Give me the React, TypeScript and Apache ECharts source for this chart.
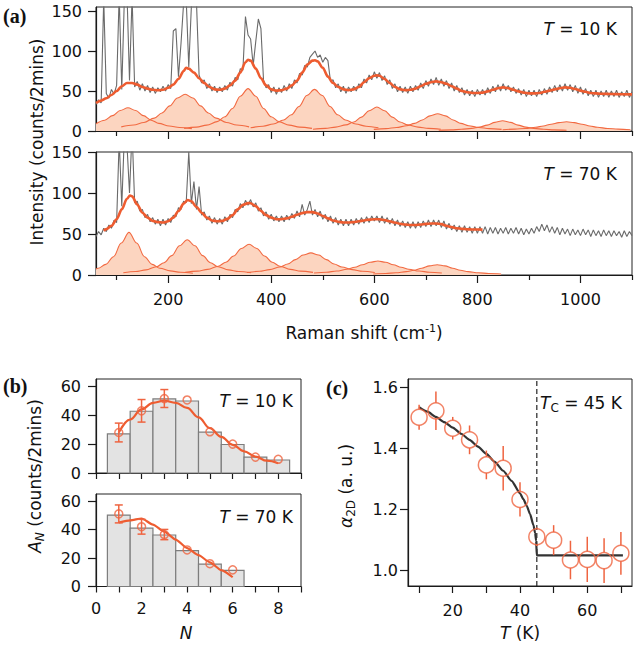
import React, { useEffect, useRef } from 'react';
import * as echarts from 'echarts';

// ---------------- Panel (a): Raman spectra ----------------
const SPEC_START = 60;
const SPEC_STEP = 5;
const SPEC_10K = [
  33, 39, 35, 165, 47, 41, 52, 46, 57, 170,
  52, 165, 175, 63, 168, 55, 62, 51, 59, 50,
  57, 48, 55, 47, 54, 49, 56, 50, 58, 53,
  125, 128, 68, 110, 160, 165, 80, 155, 170, 160,
  70, 60, 64, 53, 59, 50, 56, 48, 55, 49,
  57, 51, 61, 56, 67, 64, 78, 76, 143, 120,
  115, 82, 112, 140, 128, 64, 54, 58, 48, 55,
  46, 54, 48, 57, 50, 59, 53, 64, 60, 72,
  70, 82, 80, 92, 96, 100, 92, 95, 86, 92,
  88, 62, 64, 54, 59, 49, 56, 47, 55, 49,
  56, 50, 59, 54, 65, 60, 70, 64, 74, 66,
  73, 63, 69, 58, 64, 53, 59, 49, 56, 48,
  55, 47, 56, 49, 57, 51, 60, 53, 63, 56,
  65, 58, 67, 57, 65, 56, 63, 53, 60, 50,
  57, 48, 54, 45, 52, 44, 51, 43, 52, 45,
  52, 45, 54, 47, 56, 49, 58, 50, 59, 51,
  57, 49, 55, 47, 53, 45, 52, 43, 51, 44,
  51, 43, 52, 45, 53, 46, 55, 48, 57, 49,
  58, 50, 59, 51, 58, 49, 57, 47, 55, 46,
  53, 44, 51, 43, 51, 42, 50, 43, 51, 42,
  50, 43, 51, 42, 49, 43, 51, 42, 49,
];
const SPEC_70K = [
  47, 53, 49, 57, 53, 61, 57, 67, 64, 165,
  84, 170, 160, 100, 175, 88, 90, 78, 80, 70,
  74, 65, 70, 62, 68, 60, 68, 61, 69, 64,
  73, 71, 82, 80, 90, 88, 150, 87, 114, 80,
  108, 73, 77, 67, 72, 63, 70, 62, 69, 62,
  71, 65, 74, 70, 80, 77, 87, 82, 91, 85,
  92, 83, 88, 78, 82, 72, 77, 68, 74, 66,
  72, 65, 72, 65, 73, 67, 75, 69, 78, 71,
  86, 73, 80, 90, 73, 80, 71, 78, 68, 74,
  65, 72, 63, 70, 61, 68, 60, 68, 60, 68,
  61, 69, 62, 70, 63, 71, 64, 72, 66, 72,
  64, 72, 63, 70, 62, 69, 60, 67, 59, 66,
  58, 65, 57, 65, 57, 65, 58, 66, 59, 67,
  59, 67, 60, 67, 58, 66, 56, 63, 55, 61,
  53, 60, 52, 60, 52, 59, 51, 59, 51, 59,
  51, 59, 50, 58, 51, 58, 50, 57, 51, 58,
  50, 57, 51, 58, 50, 57, 49, 56, 50, 57,
  51, 59, 53, 62, 54, 61, 52, 59, 51, 58,
  49, 57, 50, 56, 48, 56, 49, 55, 48, 56,
  49, 55, 47, 55, 48, 54, 47, 55, 48, 54,
  47, 54, 48, 53, 46, 54, 47, 53, 48,
];
const FIT_10K = [
  [60, 35], [70, 38], [80, 41], [90, 45], [100, 50], [110, 56], [120, 60], [130, 60], [140, 58], [150, 55],
  [160, 53], [170, 51.5], [180, 51], [190, 51.5], [200, 54], [210, 58], [220, 65], [230, 75], [235, 79], [240, 78],
  [250, 73], [260, 66], [270, 60], [280, 55], [290, 52], [300, 51.5], [310, 53], [320, 57], [330, 63], [340, 73],
  [350, 86], [355, 89], [360, 88], [370, 78], [380, 66], [390, 57], [400, 52], [410, 50.5], [420, 51], [430, 53],
  [440, 57], [450, 63], [460, 73], [470, 83], [480, 88], [485, 88.5], [490, 87], [500, 79], [510, 68], [520, 60],
  [530, 55], [540, 52], [550, 51], [560, 52], [570, 55], [580, 61], [590, 66], [600, 69], [605, 69.5], [610, 69],
  [620, 65], [630, 60], [640, 55], [650, 52], [660, 51], [670, 51.5], [680, 53], [690, 56], [700, 59], [710, 61],
  [720, 62], [730, 61], [740, 59], [750, 56], [760, 53], [770, 50], [780, 48.5], [790, 47.5], [800, 47.5], [810, 48],
  [820, 49.5], [830, 51.5], [840, 53.5], [850, 54.5], [860, 53.5], [870, 51.5], [880, 49.5], [890, 48], [900, 47], [910, 47],
  [920, 47.5], [930, 49], [940, 50.5], [950, 52], [960, 53.5], [970, 54.5], [980, 54], [990, 52.5], [1000, 50.5], [1010, 49],
  [1020, 47.5], [1030, 47], [1040, 46.5], [1060, 46.2], [1080, 46], [1100, 45.8],
];
const FIT_70K = [
  [75, 54], [80, 56], [90, 60], [100, 68], [110, 80], [120, 93], [126, 97], [130, 96], [140, 86], [150, 76],
  [160, 70], [170, 66], [180, 64.5], [190, 64], [200, 65.5], [210, 70], [220, 78], [230, 87], [238, 91.5], [245, 90],
  [255, 83], [265, 76], [275, 70], [285, 66.5], [295, 65.5], [305, 66], [315, 68.5], [325, 73], [335, 80], [345, 85.5],
  [355, 87.7], [360, 87.5], [370, 84], [380, 78], [390, 73], [400, 70], [410, 68], [420, 68], [430, 69], [440, 71],
  [450, 73.5], [460, 75.5], [470, 76.7], [480, 76.7], [490, 75], [500, 72], [510, 69], [520, 66.5], [530, 65], [540, 64],
  [550, 64], [560, 64.5], [570, 65.5], [580, 66.5], [590, 67.5], [600, 68], [610, 68], [620, 67], [630, 65.5], [640, 64],
  [650, 62.5], [660, 61.5], [670, 61], [680, 61], [690, 61.5], [700, 62.3], [710, 62.8], [720, 62.8], [730, 62], [740, 60],
  [750, 58.5], [760, 57], [770, 56.2], [780, 55.8], [790, 55.5], [800, 55.4], [810, 55.3],
];
const PEAKS_10K = [
  [[60, 9.1], [77, 13.5], [92, 19.2], [107, 25.7], [122, 29], [137, 25.7], [152, 19.2], [167, 13.5], [182, 9.5], [202, 6.3], [222, 4.4], [246, 3.0]],
  [[109, 5.2], [133, 7.5], [153, 10.7], [173, 16.1], [188, 22.5], [203, 31.4], [218, 41.2], [233, 46], [248, 41.2], [263, 31.4], [278, 22.5], [293, 16.1], [313, 10.7], [333, 7.5], [357, 5.2]],
  [[231, 3.3], [255, 4.9], [275, 7.3], [295, 11.7], [310, 17.8], [325, 28.2], [340, 43.5], [355, 53], [370, 43.5], [385, 28.2], [400, 17.8], [415, 11.7], [435, 7.3], [455, 4.9], [479, 3.3]],
  [[360, 4.0], [384, 6.0], [404, 8.7], [424, 13.8], [439, 20.3], [454, 30.7], [469, 44.3], [484, 52], [499, 44.3], [514, 30.7], [529, 20.3], [544, 13.8], [564, 8.7], [584, 6.0], [608, 4.0]],
  [[481, 2.2], [505, 3.3], [525, 4.8], [545, 7.6], [560, 11.3], [575, 17.3], [590, 25.4], [605, 30], [620, 25.4], [635, 17.3], [650, 11.3], [665, 7.6], [685, 4.8], [705, 3.3], [729, 2.2]],
  [[599, 2.0], [623, 3.0], [643, 4.3], [663, 6.6], [678, 9.5], [693, 13.8], [708, 18.9], [723, 21.5], [738, 18.9], [753, 13.8], [768, 9.5], [783, 6.6], [803, 4.3], [823, 3.0], [847, 2.0]],
  [[725, 0.9], [749, 1.4], [769, 2.1], [789, 3.3], [804, 4.8], [819, 7.4], [834, 10.8], [849, 12.8], [864, 10.8], [879, 7.4], [894, 4.8], [909, 3.3], [929, 2.1], [949, 1.4], [973, 0.9]],
  [[849, 1.6], [873, 2.3], [893, 3.2], [913, 4.7], [928, 6.3], [943, 8.5], [958, 10.5], [973, 11.5], [988, 10.5], [1003, 8.5], [1018, 6.3], [1033, 4.7], [1053, 3.2], [1073, 2.3], [1097, 1.6]],
];
const PEAKS_70K = [
  [[60, 7.4], [64, 8.2], [79, 13], [94, 22.3], [109, 39], [124, 52], [139, 39], [154, 22.3], [169, 13], [184, 8.2], [204, 5.0], [224, 3.3], [248, 2.2]],
  [[113, 2.8], [137, 4.2], [157, 6.2], [177, 10], [192, 15], [207, 23.6], [222, 35.6], [237, 43], [252, 35.6], [267, 23.6], [282, 15], [297, 10], [317, 6.2], [337, 4.2], [361, 2.8]],
  [[233, 3.2], [257, 4.7], [277, 6.9], [297, 10.7], [312, 15.6], [327, 23.1], [342, 32.4], [357, 37.5], [372, 32.4], [387, 23.1], [402, 15.6], [417, 10.7], [437, 6.9], [457, 4.7], [481, 3.2]],
  [[353, 3.1], [377, 4.5], [397, 6.5], [417, 9.7], [432, 13.5], [447, 18.7], [462, 24.3], [477, 27], [492, 24.3], [507, 18.7], [522, 13.5], [537, 9.7], [557, 6.5], [577, 4.5], [601, 3.1]],
  [[483, 2.4], [507, 3.4], [527, 4.8], [547, 7.0], [562, 9.4], [577, 12.5], [592, 15.6], [607, 17], [622, 15.6], [637, 12.5], [652, 9.4], [667, 7.0], [687, 4.8], [707, 3.4], [731, 2.4]],
  [[598, 1.3], [622, 1.9], [642, 2.7], [662, 4.1], [677, 5.8], [692, 8.3], [707, 11.1], [722, 12.5], [737, 11.1], [752, 8.3], [767, 5.8], [782, 4.1], [802, 2.7], [822, 1.9], [846, 1.3]],
];
const RAMAN_MAJOR = [200, 400, 600, 800, 1000];
const RAMAN_MINOR = [100, 300, 500, 700, 900, 1100];
const INTENSITY_TICKS = [0, 50, 100, 150];

// ---------------- Panel (b): A_N histograms ----------------
const N_10K = [1, 2, 3, 4, 5, 6, 7, 8];
const BAR_10K = [27, 42.7, 51.2, 49.8, 28.2, 19.7, 11, 9];
const PT_10K = [28, 43, 51.5, 50.5, 28.5, 20, 11, 9.5];
const ERR_10K = [6.5, 7.8, 6.2, 0, 0, 0, 0, 0];
const NFIT_10K = [[1, 28], [1.5, 37], [2, 44], [2.5, 48.5], [3, 50], [3.5, 48.5], [4, 45], [4.5, 38.5], [5, 31], [5.5, 25], [6, 19.5], [6.5, 15], [7, 11.3], [7.5, 8.5], [8, 6.8]];
const N_70K = [1, 2, 3, 4, 5, 6];
const BAR_70K = [50.2, 41, 36.2, 25.2, 15.7, 11.4];
const PT_70K = [51, 42, 36.5, 25.7, 16, 11.7];
const ERR_70K = [6.3, 5.2, 3.6, 0, 0, 0];
const NFIT_70K = [[1, 45], [1.5, 46.5], [2, 47.8], [2.5, 43.5], [3, 38.5], [3.5, 33], [4, 27], [4.5, 22], [5, 17], [5.5, 11.5], [6, 6.5]];
const N_TICKS = [0, 1, 2, 3, 4, 5, 6, 7, 8, 9];
const N_LABELS = [0, 2, 4, 6, 8];
const A_TICKS = [0, 20, 40, 60];

// ---------------- Panel (c): alpha_2D vs T ----------------
const T_K = [10, 15, 20, 25, 30, 35, 40, 45, 50, 55, 60, 65, 70];
const ALPHA = [1.502, 1.523, 1.466, 1.428, 1.346, 1.335, 1.233, 1.111, 1.100, 1.035, 1.037, 1.033, 1.057];
const ALPHA_ERR = [0.041, 0.063, 0.037, 0.047, 0.047, 0.073, 0.056, 0.03, 0.049, 0.063, 0.074, 0.073, 0.07];
const ALPHA_FIT = [
  [10, 1.535], [12.5, 1.52], [15, 1.503], [17.5, 1.486], [20, 1.468], [22.5, 1.448], [25, 1.428], [27.5, 1.406],
  [30, 1.382], [32.5, 1.356], [35, 1.327], [37.5, 1.294], [40, 1.253], [41, 1.234], [42, 1.212], [43, 1.185],
  [44, 1.149], [44.5, 1.123], [44.8, 1.098], [45, 1.05], [70.6, 1.05],
];
const TC = 45;
const T_TICKS = [10, 20, 30, 40, 50, 60, 70];
const T_LABELS = [20, 40, 60];
const ALPHA_TICKS = [1.0, 1.2, 1.4, 1.6];

// ---------------- styling ----------------
const FONT = 'DejaVu Sans';
const ORANGE = '#ee5c30';
const MARK = '#ef6440';
const COMP_LINE = '#f26a42';
const COMP_FILL = '#fcd5c0';
const GRAY = '#6a6a6a';
const AX = '#1a1a1a';
const TXT = '#111';

function xAxis(grid: number, min: number, max: number, ticks: number[], labels: number[], len: number, margin: number, line = true) {
  return {
    type: 'value', gridIndex: grid, min, max, position: 'bottom',
    axisLine: { show: line, onZero: false, lineStyle: { color: AX, width: 1.2 } },
    axisTick: { show: true, inside: false, length: len, customValues: ticks, lineStyle: { color: AX, width: 1.2 } },
    axisLabel: {
      show: labels.length > 0, customValues: labels, margin, fontFamily: FONT, fontSize: 16, color: TXT,
      formatter: (v: number) => String(v),
    },
    splitLine: { show: false },
  };
}
function yAxis(grid: number, min: number, max: number, ticks: number[], len: number, margin: number, fmt?: (v: number) => string) {
  return {
    type: 'value', gridIndex: grid, min, max, position: 'left',
    axisLine: { show: true, onZero: false, lineStyle: { color: AX, width: 1.2 } },
    axisTick: { show: true, inside: false, length: len, customValues: ticks, lineStyle: { color: AX, width: 1.2 } },
    axisLabel: {
      show: true, customValues: ticks, margin, fontFamily: FONT, fontSize: 16, color: TXT,
      formatter: fmt || ((v: number) => String(v)),
    },
    splitLine: { show: false },
  };
}

function specSeries(values: number[], xi: number, yi: number) {
  return {
    type: 'line', xAxisIndex: xi, yAxisIndex: yi, symbol: 'none', clip: true, z: 2,
    data: values.map((v, i) => [SPEC_START + i * SPEC_STEP, v]),
    lineStyle: { color: GRAY, width: 1.1 },
  };
}
function peakSeries(peaks: number[][][], xi: number, yi: number) {
  const out: any[] = [];
  peaks.forEach((p) => {
    out.push({
      type: 'line', xAxisIndex: xi, yAxisIndex: yi, symbol: 'none', clip: true, z: 1,
      smooth: 0.35, smoothMonotone: 'x', data: p,
      lineStyle: { width: 0, opacity: 0 }, areaStyle: { color: COMP_FILL, opacity: 1 },
    });
  });
  peaks.forEach((p) => {
    out.push({
      type: 'line', xAxisIndex: xi, yAxisIndex: yi, symbol: 'none', clip: true, z: 3,
      smooth: 0.35, smoothMonotone: 'x', data: p,
      lineStyle: { color: COMP_LINE, width: 1.1 },
    });
  });
  return out;
}
function fitSeries(data: number[][], xi: number, yi: number, color: string, width: number, smooth: number) {
  return {
    type: 'line', xAxisIndex: xi, yAxisIndex: yi, symbol: 'none', clip: true, z: 4,
    smooth, smoothMonotone: 'x', data, lineStyle: { color, width },
  };
}
function barSeries(ns: number[], vals: number[], xi: number, yi: number) {
  return {
    type: 'custom', xAxisIndex: xi, yAxisIndex: yi, z: 1,
    encode: { x: 0, y: 1 },
    data: ns.map((n, i) => [n, vals[i]]),
    renderItem: (params: any, api: any) => {
      const n = api.value(0);
      const v = api.value(1);
      const a = api.coord([n - 0.5, v]);
      const b = api.coord([n + 0.5, 0]);
      return {
        type: 'rect',
        shape: { x: a[0], y: a[1], width: b[0] - a[0], height: b[1] - a[1] },
        style: { fill: '#e3e3e3', stroke: '#7d7d7d', lineWidth: 1.2 },
      };
    },
  };
}
function errSeries(xs: number[], vals: number[], errs: number[], xi: number, yi: number, cap: number, gap: number) {
  return {
    type: 'custom', xAxisIndex: xi, yAxisIndex: yi, z: 5,
    encode: { x: 0, y: 1 },
    data: xs.map((x, i) => [x, vals[i], errs[i]]),
    renderItem: (params: any, api: any) => {
      const x = api.value(0);
      const v = api.value(1);
      const e = api.value(2);
      const children: any[] = [];
      if (e > 0) {
        const top = api.coord([x, v + e]);
        const bot = api.coord([x, v - e]);
        const mid = api.coord([x, v]);
        const st = { stroke: MARK, lineWidth: 1.5 };
        if (gap > 0) {
          if (mid[1] - gap > top[1]) children.push({ type: 'line', shape: { x1: top[0], y1: top[1], x2: top[0], y2: mid[1] - gap }, style: st });
          if (mid[1] + gap < bot[1]) children.push({ type: 'line', shape: { x1: bot[0], y1: mid[1] + gap, x2: bot[0], y2: bot[1] }, style: st });
        } else {
          children.push({ type: 'line', shape: { x1: top[0], y1: top[1], x2: bot[0], y2: bot[1] }, style: st });
        }
        if (cap > 0) {
          children.push({ type: 'line', shape: { x1: top[0] - cap, y1: top[1], x2: top[0] + cap, y2: top[1] }, style: st });
          children.push({ type: 'line', shape: { x1: bot[0] - cap, y1: bot[1], x2: bot[0] + cap, y2: bot[1] }, style: st });
        }
      }
      return { type: 'group', children };
    },
  };
}
function pointSeries(xs: number[], vals: number[], xi: number, yi: number, size: number) {
  return {
    type: 'scatter', xAxisIndex: xi, yAxisIndex: yi, z: 6, symbol: 'circle', symbolSize: size,
    data: xs.map((x, i) => [x, vals[i]]),
    itemStyle: { color: 'rgba(0,0,0,0)', borderColor: MARK, borderWidth: 1.5 },
  };
}

function txt(x: number, y: number, text: string, opts: any = {}) {
  const size = opts.size || 17;
  const base = { fontFamily: FONT, fontSize: size, fill: TXT, color: TXT };
  return {
    type: 'text', x, y, rotation: opts.rotation || 0, z: 100,
    style: {
      text,
      fontFamily: opts.family || FONT,
      fontSize: size,
      fontWeight: opts.weight || 'normal',
      fill: TXT,
      align: opts.align || 'center',
      verticalAlign: 'middle',
      textAlign: opts.align || 'center',
      textVerticalAlign: 'middle',
      rich: {
        n: { ...base, lineHeight: size + 4 },
        it: { ...base, fontStyle: 'italic', lineHeight: size + 4 },
        sub: { ...base, fontSize: 12, verticalAlign: 'bottom', lineHeight: 12 },
        subi: { ...base, fontSize: 12, fontStyle: 'italic', verticalAlign: 'bottom', lineHeight: 12 },
        sup: { ...base, fontSize: 11, verticalAlign: 'top', lineHeight: 11 },
      },
    },
  };
}

export default function App() {
  const ref = useRef<HTMLDivElement>(null);
  useEffect(() => {
    if (!ref.current) return;
    const chart = echarts.init(ref.current, null, { renderer: 'svg' });
    const gridStyle = { show: true, borderColor: '#222', borderWidth: 1, backgroundColor: 'transparent', containLabel: false };
    const option: any = {
      animation: false,
      backgroundColor: '#ffffff',
      grid: [
        { ...gridStyle, left: 96, top: 7, width: 536, height: 124 },
        { ...gridStyle, left: 96, top: 152, width: 536, height: 123 },
        { ...gridStyle, left: 96, top: 379, width: 205, height: 94 },
        { ...gridStyle, left: 96, top: 494, width: 205, height: 92.5 },
        { ...gridStyle, left: 408, top: 379, width: 224, height: 207 },
      ],
      xAxis: [
        xAxis(0, 60, 1100, RAMAN_MAJOR, [], 8, 16),
        xAxis(0, 60, 1100, RAMAN_MINOR, [], 5, 16, false),
        xAxis(1, 60, 1100, RAMAN_MAJOR, RAMAN_MAJOR, 8, 16),
        xAxis(1, 60, 1100, RAMAN_MINOR, [], 5, 16, false),
        xAxis(2, 0, 9, N_TICKS, [], 6, 14),
        xAxis(3, 0, 9, N_TICKS, N_LABELS, 6, 14),
        xAxis(4, 6.7, 73.3, T_TICKS, T_LABELS, 7, 16),
      ],
      yAxis: [
        yAxis(0, 0, 155, INTENSITY_TICKS, 8, 14),
        yAxis(1, 0, 150, INTENSITY_TICKS, 8, 14),
        yAxis(2, 0, 65, A_TICKS, 8, 15),
        yAxis(3, 0, 65, A_TICKS, 8, 15),
        yAxis(4, 0.95, 1.627, ALPHA_TICKS, 8, 10, (v: number) => v.toFixed(1)),
      ],
      series: [
        ...peakSeries(PEAKS_10K, 0, 0),
        specSeries(SPEC_10K, 0, 0),
        fitSeries(FIT_10K, 0, 0, ORANGE, 2.6, 0.3),
        ...peakSeries(PEAKS_70K, 2, 1),
        specSeries(SPEC_70K, 2, 1),
        fitSeries(FIT_70K, 2, 1, ORANGE, 2.6, 0.3),
        barSeries(N_10K, BAR_10K, 4, 2),
        fitSeries(NFIT_10K, 4, 2, ORANGE, 2.2, 0.4),
        errSeries(N_10K, PT_10K, ERR_10K, 4, 2, 4, 0),
        pointSeries(N_10K, PT_10K, 4, 2, 8),
        barSeries(N_70K, BAR_70K, 5, 3),
        fitSeries(NFIT_70K, 5, 3, ORANGE, 2.2, 0.2),
        errSeries(N_70K, PT_70K, ERR_70K, 5, 3, 4, 0),
        pointSeries(N_70K, PT_70K, 5, 3, 8),
        {
          type: 'line', xAxisIndex: 6, yAxisIndex: 4, symbol: 'none', z: 3,
          data: [[TC, 0.95], [TC, 1.627]],
          lineStyle: { color: '#222', width: 1.2, type: [5, 3] },
        },
        fitSeries(ALPHA_FIT, 6, 4, '#333333', 2.2, 0.2),
        errSeries(T_K, ALPHA, ALPHA_ERR, 6, 4, 0, 8),
        pointSeries(T_K, ALPHA, 6, 4, 16),
      ],
      graphic: [
        txt(3, 16, '(a)', { family: 'Liberation Serif', weight: 'bold', size: 20, align: 'left' }),
        txt(3, 386, '(b)', { family: 'Liberation Serif', weight: 'bold', size: 20, align: 'left' }),
        txt(326, 388, '(c)', { family: 'Liberation Serif', weight: 'bold', size: 20, align: 'left' }),
        txt(37, 142, 'Intensity (counts/2mins)', { rotation: Math.PI / 2 }),
        txt(364, 333, '{n|Raman shift (cm}{sup|-1}{n|)}'),
        txt(617, 29, '{it|T}{n| = 10 K}', { align: 'right' }),
        txt(617, 174, '{it|T}{n| = 70 K}', { align: 'right' }),
        txt(293, 401, '{it|T}{n| = 10 K}', { align: 'right' }),
        txt(293, 517, '{it|T}{n| = 70 K}', { align: 'right' }),
        txt(35, 476, '{it|A}{subi|N}{n| (counts/2mins)}', { rotation: Math.PI / 2 }),
        txt(186, 633, '{it|N}'),
        txt(346, 486, '{it|α}{sub|2D}{n| (a. u.)}', { rotation: Math.PI / 2 }),
        txt(520, 633, '{it|T}{n| (K)}'),
        txt(540, 403, '{it|T}{sub|C}{n| = 45 K}', { align: 'left' }),
      ],
    };
    chart.setOption(option);
    return () => chart.dispose();
  }, []);
  return (
    <div
      ref={ref}
      style={{ position: 'fixed', left: 0, top: 0, width: 634, height: 645, background: '#fff' }}
    />
  );
}
